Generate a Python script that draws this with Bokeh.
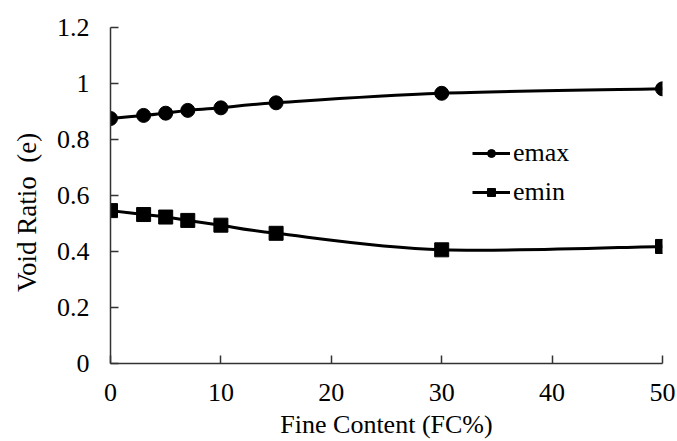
from bokeh.plotting import figure
from bokeh.models import FixedTicker, Legend, LegendItem, ColumnDataSource
from bokeh.embed import file_html
from bokeh.resources import INLINE

# Fine content (%) and the measured limiting void ratios
fine_content = [0, 3, 5, 7, 10, 15, 30, 50]
e_max = [0.875, 0.886, 0.894, 0.904, 0.913, 0.931, 0.965, 0.981]
e_min = [0.546, 0.532, 0.523, 0.511, 0.494, 0.465, 0.406, 0.418]

x_ticks = [0, 10, 20, 30, 40, 50]
y_ticks = [0, 0.2, 0.4, 0.6, 0.8, 1.0, 1.2]
y_tick_labels = ["0", "0.2", "0.4", "0.6", "0.8", "1", "1.2"]

x_title = "Fine Content (FC%)"
y_title = "Void Ratio\u00a0 (e)"

FONT = "Liberation Serif"


def smooth_segments(xs, ys):
    """Cubic Bezier segments through the points (Catmull-Rom style tangents)."""
    n = len(xs)
    seg = dict(x0=[], y0=[], x1=[], y1=[], cx0=[], cy0=[], cx1=[], cy1=[])
    for i in range(n - 1):
        xp, yp = (xs[i - 1], ys[i - 1]) if i > 0 else (xs[i], ys[i])
        xn, yn = (xs[i + 2], ys[i + 2]) if i + 2 < n else (xs[i + 1], ys[i + 1])
        seg["x0"].append(xs[i]); seg["y0"].append(ys[i])
        seg["x1"].append(xs[i + 1]); seg["y1"].append(ys[i + 1])
        seg["cx0"].append(xs[i] + (xs[i + 1] - xp) / 6)
        seg["cy0"].append(ys[i] + (ys[i + 1] - yp) / 6)
        seg["cx1"].append(xs[i + 1] - (xn - xs[i]) / 6)
        seg["cy1"].append(ys[i + 1] - (yn - ys[i]) / 6)
    return ColumnDataSource(seg)


p = figure(width=677, height=441, x_range=(0, 50), y_range=(0, 1.2),
           output_backend="svg", toolbar_location=None,
           min_border_left=110, min_border_right=15,
           min_border_top=27, min_border_bottom=78)

p.outline_line_color = None
p.xgrid.visible = False
p.ygrid.visible = False
p.background_fill_color = "white"
p.border_fill_color = "white"

for ax in (p.xaxis[0], p.yaxis[0]):
    ax.axis_line_color = "#333333"
    ax.axis_line_width = 1.5
    ax.major_tick_line_color = "#333333"
    ax.major_tick_line_width = 1.5
    ax.major_tick_in = 8
    ax.major_tick_out = 0
    ax.minor_tick_line_color = None
    ax.major_label_text_font = FONT
    ax.major_label_text_font_size = "26px"
    ax.major_label_text_color = "black"
    ax.axis_label_text_font = FONT
    ax.axis_label_text_font_style = "normal"
    ax.axis_label_text_color = "black"

p.xaxis.ticker = FixedTicker(ticks=x_ticks)
p.yaxis.ticker = FixedTicker(ticks=y_ticks)
p.yaxis.major_label_overrides = {t: s for t, s in zip(y_ticks, y_tick_labels)}
p.xaxis.major_label_standoff = 20
p.yaxis.major_label_standoff = 21

p.xaxis.axis_label = x_title
p.xaxis.axis_label_text_font_size = "26px"
p.xaxis.axis_label_standoff = 6
# trailing padding nudges the rotated title towards the lower part of the axis
p.yaxis.axis_label = y_title + "\u00a0" * 5
p.yaxis.axis_label_text_font_size = "27px"
p.yaxis.axis_label_standoff = 12

# smoothed connecting curves
p.bezier(x0="x0", y0="y0", x1="x1", y1="y1", cx0="cx0", cy0="cy0",
         cx1="cx1", cy1="cy1", source=smooth_segments(fine_content, e_max),
         line_color="black", line_width=3)
p.bezier(x0="x0", y0="y0", x1="x1", y1="y1", cx0="cx0", cy0="cy0",
         cx1="cx1", cy1="cy1", source=smooth_segments(fine_content, e_min),
         line_color="black", line_width=3)

p.scatter(fine_content, e_max, marker="circle", size=14,
          fill_color="black", line_color="black")
p.scatter(fine_content, e_min, marker="square", size=14,
          fill_color="black", line_color="black")

# legend-only renderers (single point parked outside the visible range)
lg_max_line = p.line([-10, -9], [-1, -1], line_color="black", line_width=3)
lg_max_mark = p.scatter([-10], [-1], marker="circle", size=12,
                        fill_color="black", line_color="black")
lg_min_line = p.line([-10, -9], [-1, -1], line_color="black", line_width=3)
lg_min_mark = p.scatter([-10], [-1], marker="square", size=12,
                        fill_color="black", line_color="black")

legend = Legend(items=[
    LegendItem(label="emax", renderers=[lg_max_line, lg_max_mark]),
    LegendItem(label="emin", renderers=[lg_min_line, lg_min_mark]),
], location=(362, 156))
legend.background_fill_alpha = 0
legend.border_line_color = None
legend.padding = 0
legend.margin = 0
legend.spacing = 9
legend.glyph_width = 38
legend.glyph_height = 20
legend.label_height = 20
legend.label_standoff = 3
legend.label_text_font = FONT
legend.label_text_font_size = "26px"
legend.label_text_color = "black"
legend.label_text_baseline = "middle"
p.add_layout(legend, "center")

open("out.html", "w").write(file_html(p, INLINE))
